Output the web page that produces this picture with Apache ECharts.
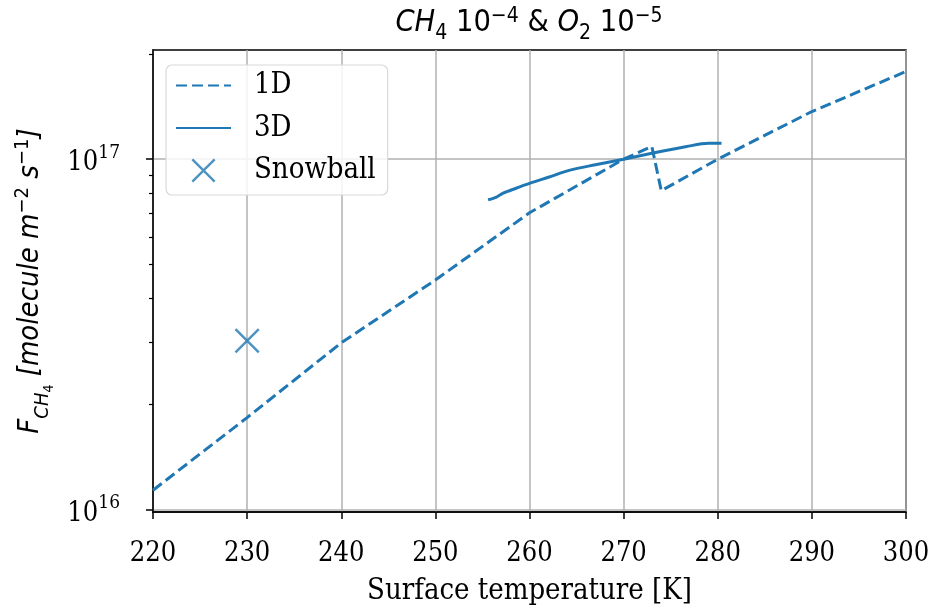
<!DOCTYPE html>
<html><head><meta charset="utf-8">
<script src="https://cdn.jsdelivr.net/npm/echarts@6/dist/echarts.min.js"></script>
<style>html,body{margin:0;padding:0;background:#fff}#c{width:931px;height:606px}</style>
</head><body><div id="c"></div>
<script>
// ---- data ----
const temps1D = [220, 230, 240, 250, 260, 270, 273, 274, 280, 290, 300];
const flux1D  = [1.135e16, 1.83e16, 2.99e16, 4.52e16, 7.03e16, 1.0e17, 1.087e17, 8.13e16, 1.0e17, 1.368e17, 1.78e17];
const temps3D = [255.6, 256.5, 257.2, 258.5, 260, 262, 264.3, 267, 270, 273, 276.7, 279, 280.4];
const flux3D  = [7.66e16, 7.8e16, 8.0e16, 8.25e16, 8.53e16, 8.88e16, 9.31e16, 9.64e16, 1.0e17, 1.04e17, 1.087e17, 1.11e17, 1.11e17];
const snowballT = [230];
const snowballF = [3.03e16];
const xTickLabels = [220, 230, 240, 250, 260, 270, 280, 290, 300];
const yMajorTicks = [1e16, 1e17];
const yMinorTicks = [2e16, 3e16, 4e16, 5e16, 6e16, 7e16, 8e16, 9e16, 2e17];
const yRange = [9.837e15, 2.05e17];

const C0 = '#1f77b4';
const serif = '"DejaVu Serif Condensed", "DejaVu Serif", serif';
const sans = '"DejaVu Sans Condensed", "DejaVu Sans", sans-serif';
const lg = Math.log10;
const pairs = (xs, ys) => xs.map((x, i) => [x, lg(ys[i])]);

const xPath = 'path://M0,7L7,0L50,43L93,0L100,7L57,50L100,93L93,100L50,57L7,100L0,93L43,50Z';

const chart = echarts.init(document.getElementById('c'), null, {renderer: 'canvas'});
const yMin = lg(yRange[0]), yMax = lg(yRange[1]);

chart.setOption({
  animation: false,
  backgroundColor: '#fff',
  title: {
    left: 529, top: 2, textAlign: 'center', padding: [4, 0, 4, 0],
    text: '{i|CH}{sub|4}{n| 10}{sup|−4}{n| & }{i|O}{sub|2}{n| 10}{sup|−5}',
    textStyle: {
      fontWeight: 'normal',
      rich: {
        i: {fontFamily: sans, fontStyle: 'italic', fontWeight: 'normal', fontSize: 30.5, color: '#000', lineHeight: 35},
        n: {fontFamily: sans, fontWeight: 'normal', fontSize: 30.5, color: '#000', lineHeight: 35},
        sub: {fontFamily: sans, fontWeight: 'normal', fontSize: 21, color: '#000', verticalAlign: 'bottom', lineHeight: 21, padding: [0, 0, -3, 0]},
        sup: {fontFamily: sans, fontWeight: 'normal', fontSize: 21, color: '#000', verticalAlign: 'top', lineHeight: 21}
      }
    }
  },
  grid: {left: 153, right: 25, top: 50, bottom: 94, outerBoundsMode: 'none', containLabel: false,
         show: true, borderColor: '#000', borderWidth: 1.5, backgroundColor: 'transparent'},
  legend: {
    orient: 'vertical', left: 166, top: 65,
    padding: [6, 12, 10, 9],
    backgroundColor: 'rgba(255,255,255,0.85)',
    borderColor: '#d9d9d9', borderWidth: 1.2, borderRadius: 6,
    itemWidth: 55, itemHeight: 24, itemGap: 13.5,
    textStyle: {fontFamily: serif, fontSize: 29, color: '#000', padding: [0, 0, 0, 18]},
    data: [
      {name: '1D', itemStyle: {opacity: 0}},
      {name: '3D', itemStyle: {opacity: 0}},
      {name: 'Snowball'}
    ]
  },
  xAxis: {
    type: 'value', min: 220, max: 300, interval: 10,
    name: 'Surface temperature [K]', nameLocation: 'middle', nameGap: 65,
    nameTextStyle: {fontFamily: serif, fontSize: 29, color: '#000'},
    axisLine: {show: true, lineStyle: {color: '#000', width: 1.5}},
    axisTick: {show: true, inside: false, length: 7, lineStyle: {color: '#000', width: 1.5}},
    axisLabel: {fontFamily: serif, fontSize: 27, color: '#000', margin: 28},
    splitLine: {show: true, lineStyle: {color: '#b0b0b0', width: 1.5}}
  },
  yAxis: [{
    type: 'value', min: yMin, max: yMax,
    name: '{i|F}{sub|CH}{sub2|4}{i| [molecule m}{sup|−2}{i| s}{sup|−1}{i|]}',
    nameLocation: 'middle', nameGap: 102, nameRotate: 90,
    nameTextStyle: {
      rich: {
        i: {fontFamily: sans, fontStyle: 'italic', fontSize: 29, color: '#000', lineHeight: 36},
        sub: {fontFamily: sans, fontStyle: 'italic', fontSize: 20, color: '#000', verticalAlign: 'bottom', lineHeight: 20, padding: [0, 0, -4, 0]},
        sub2: {fontFamily: sans, fontSize: 14, color: '#000', verticalAlign: 'bottom', lineHeight: 14, padding: [0, 0, -8, 0]},
        sup: {fontFamily: sans, fontSize: 20, color: '#000', verticalAlign: 'top', lineHeight: 20}
      }
    },
    axisLine: {show: true, lineStyle: {color: '#000', width: 1.5}},
    axisTick: {show: true, length: 7, customValues: yMajorTicks.map(lg), lineStyle: {color: '#000', width: 1.5}},
    axisLabel: {
      customValues: yMajorTicks.map(lg), margin: 33,
      formatter: v => '{b|10}{s|' + Math.round(v) + '}',
      rich: {
        b: {fontFamily: serif, fontSize: 27, color: '#000', lineHeight: 32, padding: [8, 0, 0, 0]},
        s: {fontFamily: serif, fontSize: 19, color: '#000', verticalAlign: 'top', lineHeight: 19}
      }
    },
    splitLine: {show: true, lineStyle: {color: '#b0b0b0', width: 1.5}}
  }, {
    type: 'value', min: yMin, max: yMax, position: 'left',
    axisLine: {show: false},
    axisTick: {show: true, length: 4, customValues: yMinorTicks.map(lg), lineStyle: {color: '#000', width: 1.2}},
    axisLabel: {show: false, customValues: yMinorTicks.map(lg)},
    splitLine: {show: false}
  }],
  series: [{
    name: '1D', type: 'line', data: pairs(temps1D, flux1D), yAxisIndex: 0,
    symbol: 'none', showSymbol: false, color: C0,
    lineStyle: {color: C0, width: 3, type: [11, 5]}
  }, {
    name: '3D', type: 'line', data: pairs(temps3D, flux3D), yAxisIndex: 0,
    symbol: 'none', showSymbol: false, smooth: 0.3, color: C0,
    lineStyle: {color: C0, width: 3}
  }, {
    name: 'Snowball', type: 'scatter', data: pairs(snowballT, snowballF), yAxisIndex: 0,
    symbol: xPath, symbolSize: 25, symbolKeepAspect: true, color: C0,
    itemStyle: {color: C0}
  }]
});
</script></body></html>
